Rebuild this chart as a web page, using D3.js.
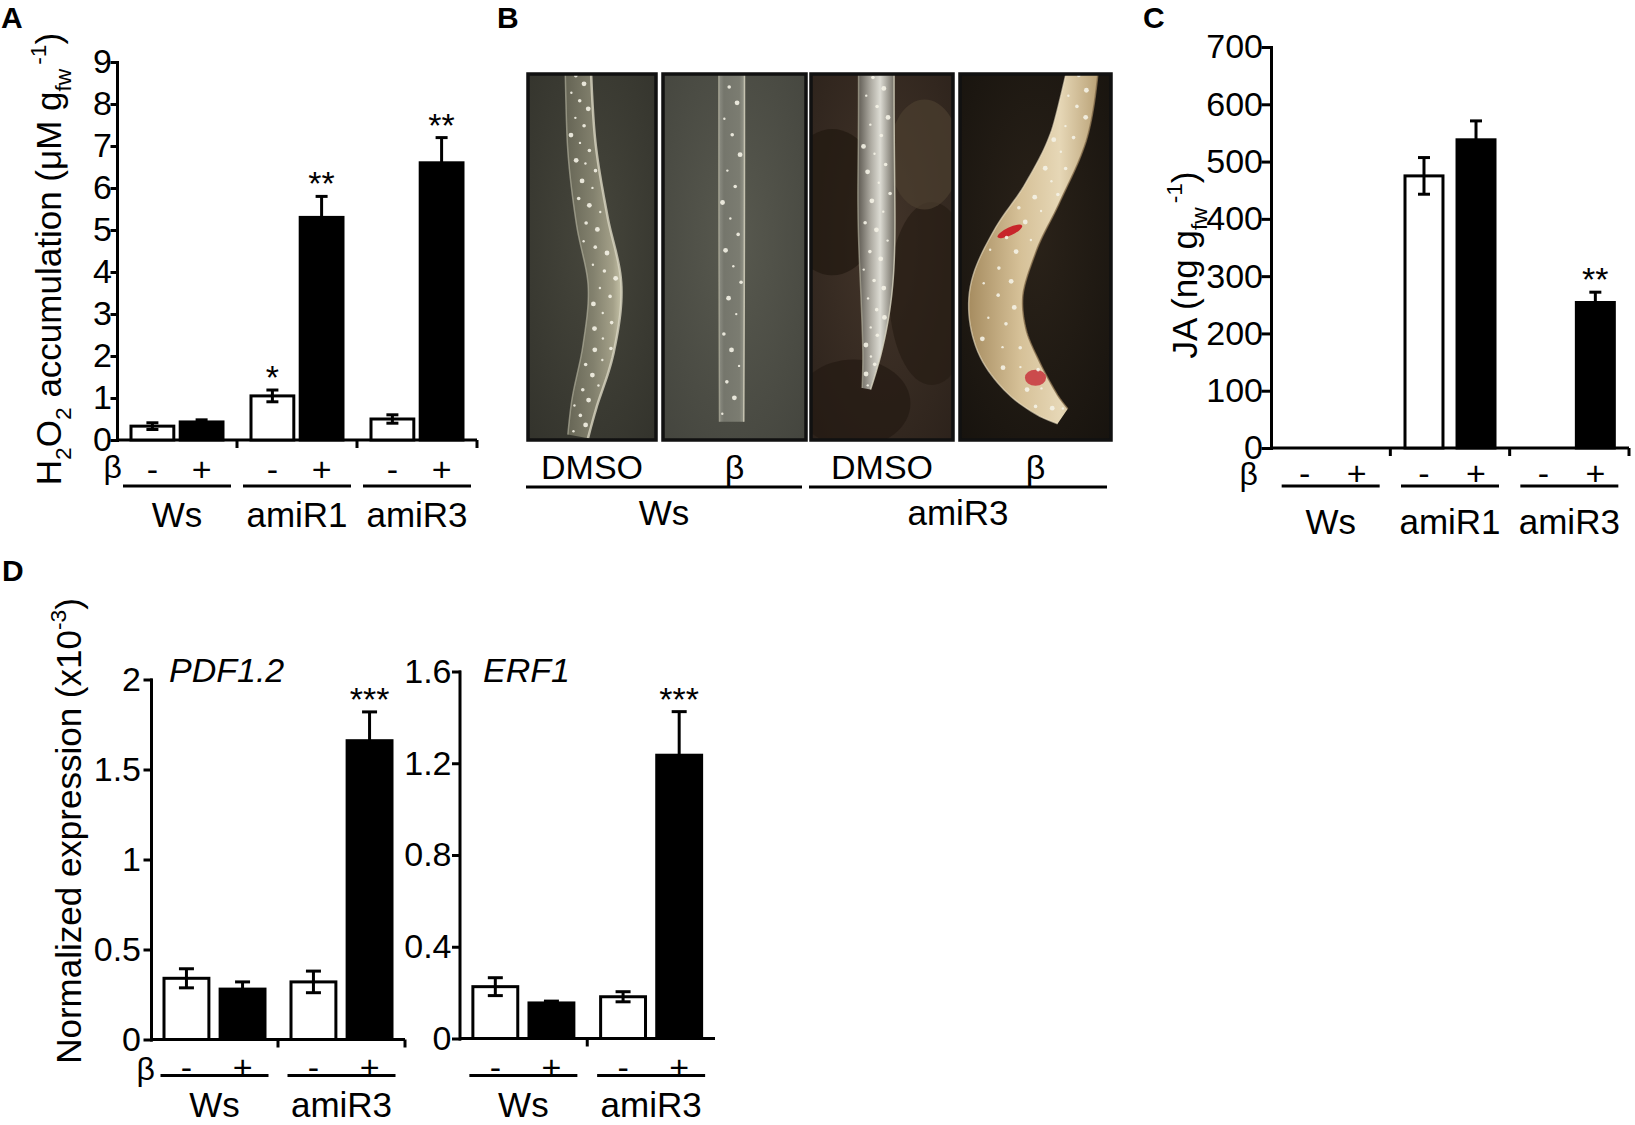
<!DOCTYPE html>
<html>
<head>
<meta charset="utf-8">
<script src="https://cdn.jsdelivr.net/npm/d3@7"></script>
<style>
  body { margin: 0; background: #fff; }
  svg { display: block; }
  text { font-family: "Liberation Sans", Arial, Helvetica, sans-serif; white-space: pre; }
</style>
</head>
<body>
<div id="fig"></div>
<script>
//size of the whole figure
var width = 1635;
var height = 1125;
var FS = 34;

//---------------- data ----------------
var treatments = ["-", "+"];

//panel A : H2O2 accumulation
var h2o2Groups = ["Ws", "amiR1", "amiR3"];
var h2o2Mean = [[0.33, 0.43], [1.05, 5.3], [0.5, 6.6]];
var h2o2Err = [[0.08, 0.05], [0.14, 0.5], [0.1, 0.6]];
var h2o2Sig = [["", ""], ["*", "**"], ["", "**"]];
var h2o2Ticks = [0, 1, 2, 3, 4, 5, 6, 7, 8, 9];
var h2o2TickLabels = ["0", "1", "2", "3", "4", "5", "6", "7", "8", "9"];

//panel C : JA
var jaGroups = ["Ws", "amiR1", "amiR3"];
var jaMean = [[0, 0], [475, 538], [0, 254]];
var jaErr = [[0, 0], [32, 33], [0, 18]];
var jaSig = [["", ""], ["", ""], ["", "**"]];
var jaTicks = [0, 100, 200, 300, 400, 500, 600, 700];
var jaTickLabels = ["0", "100", "200", "300", "400", "500", "600", "700"];

//panel D : normalized expression
var exprGroups = ["Ws", "amiR3"];
var pdfMean = [[0.34, 0.28], [0.32, 1.66]];
var pdfErr = [[0.053, 0.04], [0.06, 0.16]];
var pdfSig = [["", ""], ["", "***"]];
var pdfTicks = [0, 0.5, 1, 1.5, 2];
var pdfTickLabels = ["0", "0.5", "1", "1.5", "2"];
var erfMean = [[0.226, 0.155], [0.182, 1.235]];
var erfErr = [[0.039, 0.008], [0.022, 0.19]];
var erfSig = [["", ""], ["", "***"]];
var erfTicks = [0, 0.4, 0.8, 1.2, 1.6];
var erfTickLabels = ["0", "0.4", "0.8", "1.2", "1.6"];

//panel B : photo labels
var photoTreatments = ["DMSO", "β", "DMSO", "β"];
var photoGroups = ["Ws", "amiR3"];

//---------------- svg ----------------
var svg = d3.select("#fig")
            .append("svg")
            .attr("width", width)
            .attr("height", height);
svg.append("rect").attr("width", width).attr("height", height).attr("fill", "#fff");
var defs = svg.append("defs");

//text with sub / superscript pieces
function richText(parent, parts, fs)
{
  var t = parent.append("text").attr("font-size", fs);
  var shift = 0;
  parts.forEach(function(p) {
    var target = p.s === "sub" ? 0.28 * fs : (p.s === "sup" ? -0.42 * fs : 0);
    t.append("tspan")
     .attr("dy", target - shift)
     .attr("dx", p.dx || 0)
     .attr("font-size", p.s ? fs * 0.65 : fs)
     .text(p.t);
    shift = target;
  });
  return t;
}

function panelLetter(txt, x, y)
{
  svg.append("text").text(txt)
     .attr("x", x).attr("y", y)
     .attr("font-size", 30).attr("font-weight", "bold");
}

//generic bar chart used for A, C and D
function barPanel(c)
{
  var g = svg.append("g");
  var yScale = d3.scaleLinear().domain([0, c.ymax]).range([c.y0, c.y1]);
  var xGroup = d3.scaleBand().domain(c.groups).range([c.x0, c.x1]);
  var xInner = d3.scaleBand().domain(treatments)
                 .range([-c.half, c.half]).paddingInner(c.pad);
  var bw = xInner.bandwidth();
  function centre(gi) { return xGroup(c.groups[gi]) + xGroup.bandwidth() / 2; }
  function barMid(gi, ti) { return centre(gi) + xInner(treatments[ti]) + bw / 2; }

  //y axis
  var yAxis = d3.axisLeft(yScale)
                .tickValues(c.ticks)
                .tickFormat(function(d, i) { return c.tickLabels[i]; })
                .tickSize(c.tickLen)
                .tickSizeOuter(0)
                .tickPadding(c.tickPad);
  var ya = g.append("g")
            .attr("transform", "translate(" + c.x0 + ",0)")
            .call(yAxis);
  ya.attr("font-size", FS);
  ya.selectAll("path, line").attr("stroke-width", 3).attr("stroke-linecap", "square");

  //x axis with ticks between groups
  g.append("line")
   .attr("x1", c.x0).attr("x2", c.x1)
   .attr("y1", c.y0).attr("y2", c.y0)
   .attr("stroke", "#000").attr("stroke-width", 3);
  var bounds = c.groups.slice(1).map(function(d) { return xGroup(d); });
  if (c.endTick) bounds.push(c.x1);
  g.selectAll(".xt").data(bounds).enter().append("line")
   .attr("x1", function(d) { return d; }).attr("x2", function(d) { return d; })
   .attr("y1", c.y0).attr("y2", c.y0 + 8)
   .attr("stroke", "#000").attr("stroke-width", 3);

  //flatten the values
  var bars = [];
  c.groups.forEach(function(gr, gi) {
    treatments.forEach(function(t, ti) {
      bars.push({gi: gi, ti: ti, v: c.mean[gi][ti], e: c.err[gi][ti], s: c.sig[gi][ti]});
    });
  });

  //bars
  g.selectAll(".bar").data(bars.filter(function(d) { return d.v > 0; }))
   .enter().append("rect")
   .attr("x", function(d) { return barMid(d.gi, d.ti) - bw / 2; })
   .attr("width", bw)
   .attr("y", function(d) { return yScale(d.v); })
   .attr("height", function(d) { return c.y0 - yScale(d.v); })
   .attr("fill", function(d) { return d.ti === 0 ? "#fff" : "#000"; })
   .attr("stroke", "#000").attr("stroke-width", 3);

  //error bars
  var eg = g.selectAll(".eb").data(bars.filter(function(d) { return d.e > 0; }))
            .enter().append("g")
            .attr("stroke", "#000").attr("stroke-width", 3);
  eg.append("line")
    .attr("x1", function(d) { return barMid(d.gi, d.ti); })
    .attr("x2", function(d) { return barMid(d.gi, d.ti); })
    .attr("y1", function(d) { return yScale(d.v - d.e); })
    .attr("y2", function(d) { return yScale(d.v + d.e); });
  [1, -1].forEach(function(sign) {
    eg.append("line")
      .attr("x1", function(d) { return barMid(d.gi, d.ti) - c.cap; })
      .attr("x2", function(d) { return barMid(d.gi, d.ti) + c.cap; })
      .attr("y1", function(d) { return yScale(d.v + sign * d.e); })
      .attr("y2", function(d) { return yScale(d.v + sign * d.e); });
  });

  //significance stars
  g.selectAll(".sig").data(bars.filter(function(d) { return d.s; }))
   .enter().append("text")
   .text(function(d) { return d.s; })
   .attr("x", function(d) { return barMid(d.gi, d.ti); })
   .attr("y", function(d) { return yScale(d.v + d.e) - c.sigGap; })
   .attr("text-anchor", "middle")
   .attr("font-size", FS);

  //treatment row
  g.selectAll(".tr").data(bars).enter().append("text")
   .text(function(d) { return treatments[d.ti]; })
   .attr("x", function(d) { return barMid(d.gi, d.ti); })
   .attr("y", c.signY)
   .attr("text-anchor", "middle")
   .attr("font-size", FS);
  if (c.betaX) {
    g.append("text").text("β")
     .attr("x", c.betaX).attr("y", c.betaY)
     .attr("text-anchor", "end").attr("font-size", FS - 2);
  }

  //group underline and names
  g.selectAll(".ul").data(c.groups).enter().append("line")
   .attr("x1", function(d, i) { return centre(i) - c.ulHalf; })
   .attr("x2", function(d, i) { return centre(i) + c.ulHalf; })
   .attr("y1", c.ulY).attr("y2", c.ulY)
   .attr("stroke", "#000").attr("stroke-width", 3);
  g.selectAll(".gl").data(c.groups).enter().append("text")
   .text(function(d) { return d; })
   .attr("x", function(d, i) { return centre(i); })
   .attr("y", c.labelY)
   .attr("text-anchor", "middle")
   .attr("font-size", FS + 1);

  //y title
  if (c.title) {
    var tg = g.append("g")
              .attr("transform", "translate(" + c.titleX + "," + c.titleY + ") rotate(-90)");
    richText(tg, c.title, FS + 1).attr("text-anchor", "middle");
  }
  //gene name
  if (c.gene) {
    g.append("text").text(c.gene)
     .attr("x", c.geneX).attr("y", c.geneY)
     .attr("font-style", "italic").attr("font-size", FS);
  }
}

//---------------- panel A ----------------
panelLetter("A", 1, 28);
barPanel({
  groups: h2o2Groups, mean: h2o2Mean, err: h2o2Err, sig: h2o2Sig,
  ticks: h2o2Ticks, tickLabels: h2o2TickLabels, ymax: 9,
  x0: 117, x1: 477, y0: 440, y1: 62,
  tickLen: 5, tickPad: 0, half: 46, pad: 0.13, cap: 6, sigGap: 1,
  endTick: true,
  signY: 481, betaX: 122, betaY: 478, ulY: 486, ulHalf: 54, labelY: 527,
  titleX: 61, titleY: 259,
  title: [{t: "H"}, {t: "2", s: "sub"}, {t: "O"}, {t: "2", s: "sub"},
          {t: " accumulation (μM g"}, {t: "fw", s: "sub"}, {t: "-1", s: "sup", dx: 4}, {t: ")"}]
});

//---------------- panel C ----------------
panelLetter("C", 1143, 28);
barPanel({
  groups: jaGroups, mean: jaMean, err: jaErr, sig: jaSig,
  ticks: jaTicks, tickLabels: jaTickLabels, ymax: 700,
  x0: 1271, x1: 1629, y0: 448, y1: 47,
  tickLen: 8, tickPad: 0, half: 45, pad: 0.27, cap: 6, sigGap: 1,
  endTick: true,
  signY: 485, betaX: 1258, betaY: 485, ulY: 486, ulHalf: 49, labelY: 534,
  titleX: 1197, titleY: 265,
  title: [{t: "JA (ng g"}, {t: "fw", s: "sub"}, {t: "-1", s: "sup", dx: 4}, {t: ")"}]
});

//---------------- panel D ----------------
panelLetter("D", 2, 581);
barPanel({
  groups: exprGroups, mean: pdfMean, err: pdfErr, sig: pdfSig,
  ticks: pdfTicks, tickLabels: pdfTickLabels, ymax: 2,
  x0: 151, x1: 405, y0: 1039.5, y1: 679.5,
  tickLen: 6, tickPad: 4, half: 50.5, pad: 0.2, cap: 7.5, sigGap: 1,
  endTick: true,
  signY: 1079, betaX: 155, betaY: 1080, ulY: 1075.5, ulHalf: 54, labelY: 1117,
  titleX: 81, titleY: 831,
  title: [{t: "Normalized expression (x10"}, {t: "-3", s: "sup"}, {t: ")"}],
  gene: "PDF1.2", geneX: 169, geneY: 682
});
barPanel({
  groups: exprGroups, mean: erfMean, err: erfErr, sig: erfSig,
  ticks: erfTicks, tickLabels: erfTickLabels, ymax: 1.6,
  x0: 459.5, x1: 715, y0: 1038.5, y1: 671.5,
  tickLen: 6, tickPad: 2, half: 50.5, pad: 0.2, cap: 7.5, sigGap: 1,
  endTick: false,
  signY: 1079, ulY: 1075.5, ulHalf: 54, labelY: 1117,
  gene: "ERF1", geneX: 483, geneY: 682
});

//---------------- panel B (photographs, drawn) ----------------
panelLetter("B", 497, 28);

var frameLeft = [528, 663, 811, 960];
var frameRight = [656, 806, 953, 1111];
var frameTop = 74, frameBottom = 440;

//root centre lines in frame units (0..1 across, 0..1 down) and relative widths
var rootLines = [
  [[0.39, -0.03], [0.42, 0.2], [0.5, 0.4], [0.6, 0.58], [0.55, 0.75], [0.44, 0.9], [0.39, 0.99]],
  [[0.48, -0.03], [0.48, 0.5], [0.48, 0.95]],
  [[0.46, -0.03], [0.46, 0.3], [0.46, 0.6], [0.43, 0.76], [0.39, 0.86]],
  [[0.82, -0.03], [0.72, 0.17], [0.54, 0.33], [0.36, 0.46], [0.24, 0.6],
   [0.27, 0.72], [0.4, 0.82], [0.57, 0.9], [0.68, 0.935]]
];
var rootWidths = [
  [0.2, 0.21, 0.24, 0.26, 0.26, 0.24, 0.16],
  [0.18, 0.18, 0.17],
  [0.25, 0.25, 0.27, 0.22, 0.06],
  [0.2, 0.24, 0.24, 0.26, 0.32, 0.36, 0.36, 0.3, 0.12]
];
var bgStops = [["#46463c", "#33332c"], ["#58594f", "#44453e"], ["#43352a", "#2c221b"], ["#2a2219", "#17130e"]];
var rootStops = [
  [["0", "#6c6b5a"], ["0.5", "#8e8c77"], ["0.85", "#b5b197"], ["1", "#dcd8bb"]],
  [["0", "#8d8e84"], ["0.2", "#75766c"], ["0.8", "#7b7c71"], ["1", "#96978b"]],
  [["0", "#5e5a52"], ["0.35", "#aeaba2"], ["0.6", "#dcdbd3"], ["1", "#6e6a60"]],
  [["0", "#a68c60"], ["0.4", "#d6c198"], ["0.7", "#e6d7b6"], ["1", "#b9a176"]]
];
var speckCount = [46, 22, 34, 40];

function rootShape(pts, widths, sx, sy, fw)
{
  var line = d3.line()
               .x(function(d) { return sx(d[0]); })
               .y(function(d) { return sy(d[1]); })
               .curve(d3.curveCatmullRom.alpha(0.5));
  var tmp = svg.append("path").attr("d", line(pts)).attr("fill", "none");
  var node = tmp.node();
  var L = node.getTotalLength();
  var wAt = d3.interpolateBasis(widths.map(function(w) { return w * fw; }));
  var left = [], right = [], centreLine = [];
  var n = 90;
  for (var i = 0; i <= n; ++i) {
    var t = i / n;
    var p = node.getPointAtLength(t * L);
    var a = node.getPointAtLength(Math.max(0, t * L - 1));
    var b = node.getPointAtLength(Math.min(L, t * L + 1));
    var dx = b.x - a.x, dy = b.y - a.y, len = Math.hypot(dx, dy) || 1;
    var nx = -dy / len, ny = dx / len, w = wAt(t) / 2;
    left.push([p.x + nx * w, p.y + ny * w]);
    right.push([p.x - nx * w, p.y - ny * w]);
    centreLine.push({x: p.x, y: p.y, nx: nx, ny: ny, w: w});
  }
  tmp.remove();
  return {outline: left.concat(right.slice().reverse()), centre: centreLine, left: left, right: right};
}

frameLeft.forEach(function(x0, i) {
  var x1 = frameRight[i];
  var fw = x1 - x0;
  var sx = d3.scaleLinear().domain([0, 1]).range([x0, x1]);
  var sy = d3.scaleLinear().domain([0, 1]).range([frameTop, frameBottom]);

  //gradients
  var bg = defs.append("radialGradient").attr("id", "bg" + i)
               .attr("cx", "0.5").attr("cy", "0.45").attr("r", "0.75");
  bg.append("stop").attr("offset", "0").attr("stop-color", bgStops[i][0]);
  bg.append("stop").attr("offset", "1").attr("stop-color", bgStops[i][1]);
  var rg = defs.append("linearGradient").attr("id", "rg" + i)
               .attr("x1", "0").attr("x2", "1").attr("y1", "0").attr("y2", "0");
  rootStops[i].forEach(function(s) {
    rg.append("stop").attr("offset", s[0]).attr("stop-color", s[1]);
  });
  defs.append("clipPath").attr("id", "clip" + i)
      .append("rect").attr("x", x0).attr("y", frameTop)
      .attr("width", fw).attr("height", frameBottom - frameTop);

  var fg = svg.append("g");
  fg.append("rect").attr("x", x0).attr("y", frameTop)
    .attr("width", fw).attr("height", frameBottom - frameTop)
    .attr("fill", "url(#bg" + i + ")");
  var cg = fg.append("g").attr("clip-path", "url(#clip" + i + ")");

  //dark / light patches of the third background
  if (i === 2) {
    [[0.15, 0.35, 0.35, 0.2, "#21180f"], [0.85, 0.6, 0.3, 0.25, "#261c14"],
     [0.3, 0.9, 0.4, 0.12, "#231a12"], [0.8, 0.22, 0.25, 0.15, "#4b3e2f"]].forEach(function(b) {
      cg.append("ellipse").attr("cx", sx(b[0])).attr("cy", sy(b[1]))
        .attr("rx", b[2] * fw).attr("ry", b[3] * (frameBottom - frameTop))
        .attr("fill", b[4]).attr("opacity", 0.7);
    });
  }

  var shape = rootShape(rootLines[i], rootWidths[i], sx, sy, fw);
  var poly = d3.line().curve(d3.curveLinearClosed);
  cg.append("path").attr("d", poly(shape.outline))
    .attr("fill", "url(#rg" + i + ")")
    .attr("opacity", i === 0 ? 0.85 : 1);

  //bright rims
  var edge = d3.line().x(function(d) { return d[0]; }).y(function(d) { return d[1]; });
  cg.append("path").attr("d", edge(shape.right))
    .attr("fill", "none").attr("stroke", i === 3 ? "#8a7250" : "#d9d6c2")
    .attr("stroke-width", i === 0 ? 2.5 : 1.5).attr("opacity", 0.8);
  cg.append("path").attr("d", edge(shape.left))
    .attr("fill", "none").attr("stroke", i === 3 ? "#f0e4c8" : "#bdbaa6")
    .attr("stroke-width", 1.5).attr("opacity", 0.6);

  //red stains on the treated amiR3 root
  if (i === 3) {
    cg.append("ellipse").attr("cx", sx(0.33)).attr("cy", sy(0.43))
      .attr("rx", 0.09 * fw).attr("ry", 4).attr("fill", "#c8252a")
      .attr("transform", "rotate(-25," + sx(0.33) + "," + sy(0.43) + ")");
    cg.append("ellipse").attr("cx", sx(0.5)).attr("cy", sy(0.83))
      .attr("rx", 0.07 * fw).attr("ry", 8).attr("fill", "#c8353d").attr("opacity", 0.85);
  }

  //small glints along the root
  var specks = d3.range(speckCount[i]).map(function(k) {
    var c = shape.centre[Math.round((k + 0.5) / speckCount[i] * (shape.centre.length - 1))];
    var off = ((k * 0.618034) % 1 - 0.5) * 1.6;
    return {x: c.x + c.nx * c.w * off, y: c.y + c.ny * c.w * off, r: 1.2 + (k % 3) * 0.6};
  });
  cg.selectAll(".sp").data(specks).enter().append("circle")
    .attr("cx", function(d) { return d.x; })
    .attr("cy", function(d) { return d.y; })
    .attr("r", function(d) { return d.r; })
    .attr("fill", "#f4f2e6").attr("opacity", 0.9);

  //frame
  fg.append("rect").attr("x", x0).attr("y", frameTop)
    .attr("width", fw).attr("height", frameBottom - frameTop)
    .attr("fill", "none").attr("stroke", "#111").attr("stroke-width", 3.5);

  //treatment label
  svg.append("text").text(photoTreatments[i])
     .attr("x", (x0 + x1) / 2).attr("y", 479)
     .attr("text-anchor", "middle").attr("font-size", FS);
});

//genotype lines for B
photoGroups.forEach(function(gname, gi) {
  var a = frameLeft[gi * 2] - 2, b = frameRight[gi * 2 + 1] - 4;
  svg.append("line").attr("x1", a).attr("x2", b)
     .attr("y1", 487).attr("y2", 487)
     .attr("stroke", "#000").attr("stroke-width", 3);
  svg.append("text").text(gname)
     .attr("x", (a + b) / 2).attr("y", 525)
     .attr("text-anchor", "middle").attr("font-size", FS + 1);
});
</script>
</body>
</html>
